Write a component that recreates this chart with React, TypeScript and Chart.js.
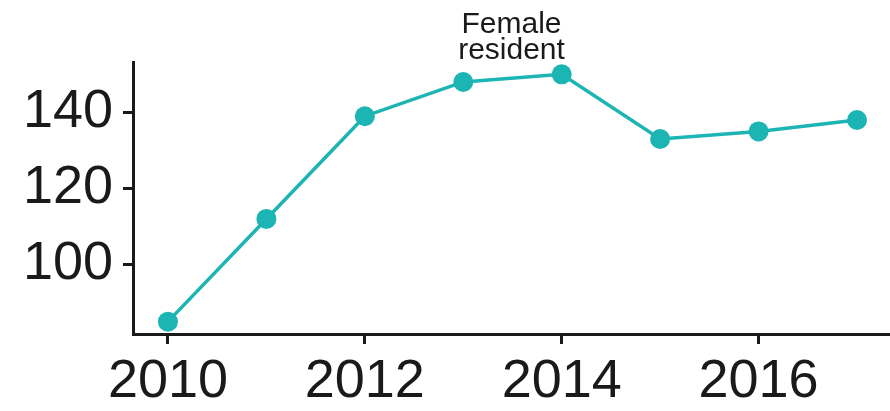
import React, { useEffect, useRef } from "react";
import { Chart, registerables } from "chart.js";

Chart.register(...registerables);

const years = [2010, 2011, 2012, 2013, 2014, 2015, 2016, 2017];
const femaleResident = [85, 112, 139, 148, 150, 133, 135, 138];
const xTicks = [2010, 2012, 2014, 2016];
const yTicks = [100, 120, 140];
const seriesLabel = ["Female", "resident"];

const COLOR = "#1DB4B4";
const FONT = "'Liberation Sans', Arial, Helvetica, sans-serif";

const labelPlugin = {
  id: "panelLabel",
  afterDraw(chart: any) {
    const { ctx, chartArea } = chart;
    ctx.save();
    ctx.fillStyle = "#1a1a1a";
    ctx.font = `30px ${FONT}`;
    ctx.textAlign = "center";
    ctx.textBaseline = "alphabetic";
    const cx = (chartArea.left + chartArea.right) / 2;
    ctx.fillText(seriesLabel[0], cx, 33);
    ctx.fillText(seriesLabel[1], cx, 59);
    ctx.restore();
  },
};

export default function App() {
  const ref = useRef<HTMLCanvasElement>(null);
  useEffect(() => {
    document.body.style.margin = "0";
    const chart = new Chart(ref.current!, {
      type: "line",
      data: {
        datasets: [
          {
            data: years.map((y, i) => ({ x: y, y: femaleResident[i] })),
            borderColor: COLOR,
            backgroundColor: COLOR,
            borderWidth: 3.5,
            pointRadius: 10,
            pointBorderWidth: 0,
            pointBackgroundColor: COLOR,
            tension: 0,
            clip: false,
          },
        ],
      },
      options: {
        animation: false,
        responsive: false,
        maintainAspectRatio: false,
        layout: { autoPadding: false, padding: { top: 62, right: 0, left: 0, bottom: 0 } },
        plugins: { legend: { display: false }, tooltip: { enabled: false }, title: { display: false } },
        scales: {
          x: {
            type: "linear",
            min: 2009.645,
            max: 2017.335,
            afterBuildTicks: (s: any) => {
              s.ticks = xTicks.map((v) => ({ value: v }));
            },
            afterFit: (s: any) => {
              s.height = 77;
            },
            ticks: {
              color: "#1a1a1a",
              font: { family: FONT, size: 54 },
              padding: 6,
              maxRotation: 0,
              autoSkip: false,
              callback: (v: any) => String(v),
            },
            grid: {
              display: true,
              drawOnChartArea: false,
              drawTicks: true,
              tickLength: 10,
              lineWidth: 3,
              color: "#1a1a1a",
            },
            border: { display: true, width: 3, color: "#1a1a1a" },
          },
          y: {
            type: "linear",
            min: 81.75,
            max: 153.25,
            afterBuildTicks: (s: any) => {
              s.ticks = yTicks.map((v) => ({ value: v }));
            },
            afterFit: (s: any) => {
              s.width = 133;
            },
            ticks: {
              color: "#1a1a1a",
              font: { family: FONT, size: 54 },
              padding: 10,
              autoSkip: false,
              callback: (v: any) => String(v),
            },
            grid: {
              display: true,
              drawOnChartArea: false,
              drawTicks: true,
              tickLength: 10,
              lineWidth: 3,
              color: "#1a1a1a",
            },
            border: { display: true, width: 3, color: "#1a1a1a" },
          },
        },
      },
      plugins: [labelPlugin],
    });
    return () => chart.destroy();
  }, []);
  return (
    <div style={{ position: "fixed", left: 0, top: 0, width: 890, height: 411, background: "#fff" }}>
      <canvas ref={ref} width={890} height={411} style={{ width: 890, height: 411 }} />
    </div>
  );
}
